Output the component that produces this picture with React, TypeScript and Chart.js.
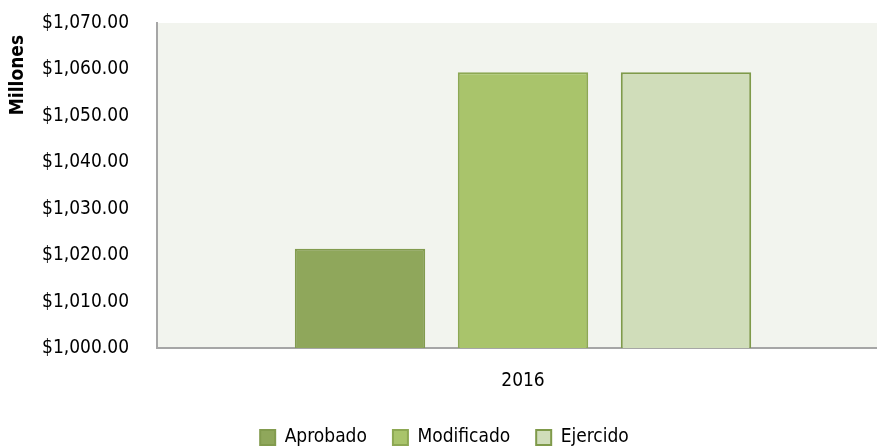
import React, { useEffect, useRef } from "react";
import { Chart, registerables } from "chart.js";

Chart.register(...registerables);

const categories = ["2016"];
const seriesNames = ["Aprobado", "Modificado", "Ejercido"];
const aprobado = [1021.4];
const modificado = [1059.4];
const ejercido = [1059.4];
const fills = ["#8FA75B", "#A9C46B", "#D0DDBA"];
const borders = ["#829B4E", "#8DA853", "#7F9A4A"];

const FONT = "'Liberation Sans Narrow', 'DejaVu Sans Condensed', 'Roboto', sans-serif";

const plotBg = {
  id: "plotBg",
  beforeDraw(chart: any) {
    const { ctx, chartArea } = chart;
    ctx.save();
    ctx.fillStyle = "#F2F4EE";
    ctx.fillRect(chartArea.left, chartArea.top, chartArea.right - chartArea.left, chartArea.bottom - chartArea.top);
    ctx.restore();
  },
};

const CW = 889;
const CH = 457;

export default function App() {
  const ref = useRef<HTMLCanvasElement>(null);
  useEffect(() => {
    const values = [aprobado, modificado, ejercido];
    const chart = new Chart(ref.current!, {
      type: "bar",
      data: {
        labels: categories,
        datasets: seriesNames.map((n, i) => ({
          label: n,
          data: values[i],
          backgroundColor: fills[i],
          borderColor: borders[i],
          borderWidth: 2,
          barPercentage: 0.8,
          categoryPercentage: 0.668,
        })),
      },
      options: {
        animation: false,
        responsive: false,
        maintainAspectRatio: false,
        layout: { padding: { top: 23, right: 0, left: 0, bottom: 0 } },
        plugins: {
          tooltip: { enabled: false },
          legend: {
            position: "bottom",
            labels: {
              font: { family: FONT, size: 19 },
              color: "#000",
              boxWidth: 15,
              boxHeight: 15,
              padding: 26,
            },
          },
        },
        scales: {
          x: {
            grid: { display: false, drawTicks: false },
            border: { color: "#A6A6A6", width: 2 },
            ticks: { font: { family: FONT, size: 19 }, color: "#000", padding: 22 },
            afterFit: (s: any) => { s.height = 54; },
          },
          y: {
            min: 1000,
            max: 1070,
            grid: {
              display: true,
              drawOnChartArea: false,
              drawTicks: true,
              tickLength: 26,
              tickColor: "rgba(0,0,0,0)",
              color: "rgba(0,0,0,0)",
            },
            border: { color: "#A6A6A6", width: 2 },
            ticks: {
              stepSize: 10,
              font: { family: FONT, size: 19 },
              color: "#000",
              padding: 2,
              callback: (v: any) =>
                "$" + Number(v).toLocaleString("en-US", { minimumFractionDigits: 2, maximumFractionDigits: 2 }),
            },
            title: {
              display: true,
              text: "Millones  ",
              align: "end",
              font: { family: FONT, size: 19, weight: "bold" },
              color: "#000",
              padding: { top: 7, bottom: 0 },
            },
            afterFit: (s: any) => { s.width = 157; },
          },
        },
      },
      plugins: [plotBg],
    });
    return () => chart.destroy();
  }, []);
  return (
    <div style={{ position: "fixed", left: 0, top: 0, width: 877, height: 448, overflow: "hidden" }}>
      <canvas ref={ref} width={CW} height={CH} style={{ width: CW, height: CH, display: "block" }} />
    </div>
  );
}
